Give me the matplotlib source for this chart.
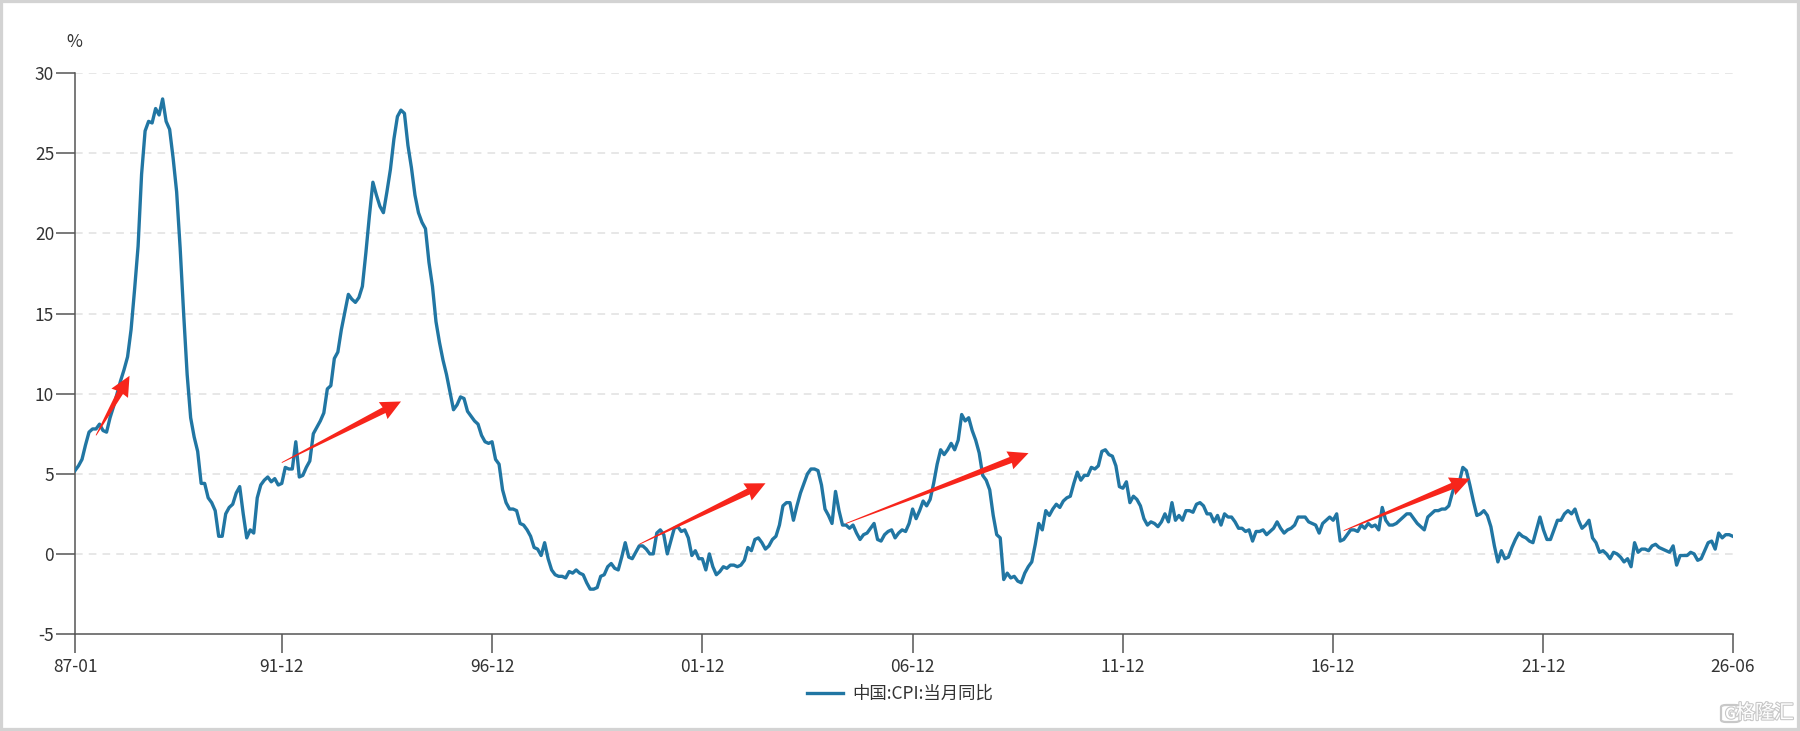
import numpy as np
import pandas as pd
import matplotlib
matplotlib.use("Agg")
import matplotlib.pyplot as plt
from matplotlib.patches import Polygon, Rectangle, FancyBboxPatch
import matplotlib.patheffects as pe

plt.rcParams['font.family'] = ['Noto Sans CJK SC', 'DejaVu Sans']
plt.rcParams['axes.unicode_minus'] = False

# 中国 CPI 当月同比 (%), 1987-01 起逐月
cpi_1987 = [5.2, 5.5, 5.9, 6.8, 7.6, 7.8, 7.8, 8.1, 7.7, 7.6, 8.5, 9.2]
cpi_1988 = [10.0, 10.8, 11.5, 12.3, 14.0, 16.5, 19.2, 23.7, 26.4, 27.0, 26.9, 27.8]
cpi_1989 = [27.4, 28.4, 27.0, 26.5, 24.7, 22.6, 19.1, 15.0, 11.2, 8.5, 7.3, 6.4]
cpi_1990 = [4.4, 4.4, 3.5, 3.2, 2.7, 1.1, 1.1, 2.5, 2.9, 3.1, 3.8, 4.2]
cpi_1991 = [2.5, 1.0, 1.5, 1.3, 3.5, 4.3, 4.6, 4.8, 4.5, 4.7, 4.3, 4.4]
cpi_1992 = [5.4, 5.3, 5.3, 7.0, 4.8, 4.9, 5.4, 5.8, 7.5, 7.9, 8.3, 8.8]
cpi_1993 = [10.3, 10.5, 12.2, 12.6, 14.0, 15.1, 16.2, 15.9, 15.7, 16.0, 16.7, 18.8]
cpi_1994 = [21.1, 23.2, 22.4, 21.7, 21.3, 22.6, 24.0, 25.9, 27.3, 27.7, 27.5, 25.5]
cpi_1995 = [24.1, 22.4, 21.3, 20.7, 20.3, 18.2, 16.7, 14.5, 13.2, 12.1, 11.2, 10.1]
cpi_1996 = [9.0, 9.3, 9.8, 9.7, 8.9, 8.6, 8.3, 8.1, 7.4, 7.0, 6.9, 7.0]
cpi_1997 = [5.9, 5.6, 4.0, 3.2, 2.8, 2.8, 2.7, 1.9, 1.8, 1.5, 1.1, 0.4]
cpi_1998 = [0.3, -0.1, 0.7, -0.3, -1.0, -1.3, -1.4, -1.4, -1.5, -1.1, -1.2, -1.0]
cpi_1999 = [-1.2, -1.3, -1.8, -2.2, -2.2, -2.1, -1.4, -1.3, -0.8, -0.6, -0.9, -1.0]
cpi_2000 = [-0.2, 0.7, -0.2, -0.3, 0.1, 0.5, 0.5, 0.3, 0.0, 0.0, 1.3, 1.5]
cpi_2001 = [1.2, 0.0, 0.8, 1.6, 1.7, 1.4, 1.5, 1.0, -0.1, 0.2, -0.3, -0.3]
cpi_2002 = [-1.0, 0.0, -0.8, -1.3, -1.1, -0.8, -0.9, -0.7, -0.7, -0.8, -0.7, -0.4]
cpi_2003 = [0.4, 0.2, 0.9, 1.0, 0.7, 0.3, 0.5, 0.9, 1.1, 1.8, 3.0, 3.2]
cpi_2004 = [3.2, 2.1, 3.0, 3.8, 4.4, 5.0, 5.3, 5.3, 5.2, 4.3, 2.8, 2.4]
cpi_2005 = [1.9, 3.9, 2.7, 1.8, 1.8, 1.6, 1.8, 1.3, 0.9, 1.2, 1.3, 1.6]
cpi_2006 = [1.9, 0.9, 0.8, 1.2, 1.4, 1.5, 1.0, 1.3, 1.5, 1.4, 1.9, 2.8]
cpi_2007 = [2.2, 2.7, 3.3, 3.0, 3.4, 4.4, 5.6, 6.5, 6.2, 6.5, 6.9, 6.5]
cpi_2008 = [7.1, 8.7, 8.3, 8.5, 7.7, 7.1, 6.3, 4.9, 4.6, 4.0, 2.4, 1.2]
cpi_2009 = [1.0, -1.6, -1.2, -1.5, -1.4, -1.7, -1.8, -1.2, -0.8, -0.5, 0.6, 1.9]
cpi_2010 = [1.5, 2.7, 2.4, 2.8, 3.1, 2.9, 3.3, 3.5, 3.6, 4.4, 5.1, 4.6]
cpi_2011 = [4.9, 4.9, 5.4, 5.3, 5.5, 6.4, 6.5, 6.2, 6.1, 5.5, 4.2, 4.1]
cpi_2012 = [4.5, 3.2, 3.6, 3.4, 3.0, 2.2, 1.8, 2.0, 1.9, 1.7, 2.0, 2.5]
cpi_2013 = [2.0, 3.2, 2.1, 2.4, 2.1, 2.7, 2.7, 2.6, 3.1, 3.2, 3.0, 2.5]
cpi_2014 = [2.5, 2.0, 2.4, 1.8, 2.5, 2.3, 2.3, 2.0, 1.6, 1.6, 1.4, 1.5]
cpi_2015 = [0.8, 1.4, 1.4, 1.5, 1.2, 1.4, 1.6, 2.0, 1.6, 1.3, 1.5, 1.6]
cpi_2016 = [1.8, 2.3, 2.3, 2.3, 2.0, 1.9, 1.8, 1.3, 1.9, 2.1, 2.3, 2.1]
cpi_2017 = [2.5, 0.8, 0.9, 1.2, 1.5, 1.5, 1.4, 1.8, 1.6, 1.9, 1.7, 1.8]
cpi_2018 = [1.5, 2.9, 2.1, 1.8, 1.8, 1.9, 2.1, 2.3, 2.5, 2.5, 2.2, 1.9]
cpi_2019 = [1.7, 1.5, 2.3, 2.5, 2.7, 2.7, 2.8, 2.8, 3.0, 3.8, 4.5, 4.5]
cpi_2020 = [5.4, 5.2, 4.3, 3.3, 2.4, 2.5, 2.7, 2.4, 1.7, 0.5, -0.5, 0.2]
cpi_2021 = [-0.3, -0.2, 0.4, 0.9, 1.3, 1.1, 1.0, 0.8, 0.7, 1.5, 2.3, 1.5]
cpi_2022 = [0.9, 0.9, 1.5, 2.1, 2.1, 2.5, 2.7, 2.5, 2.8, 2.1, 1.6, 1.8]
cpi_2023 = [2.1, 1.0, 0.7, 0.1, 0.2, 0.0, -0.3, 0.1, 0.0, -0.2, -0.5, -0.3]
cpi_2024 = [-0.8, 0.7, 0.1, 0.3, 0.3, 0.2, 0.5, 0.6, 0.4, 0.3, 0.2, 0.1]
cpi_2025 = [0.5, -0.7, -0.1, -0.1, -0.1, 0.1, 0.0, -0.4, -0.3, 0.2, 0.7, 0.8]
cpi_2026 = [0.3, 1.3, 1.0, 1.2, 1.2, 1.1]

years = [cpi_1987, cpi_1988, cpi_1989, cpi_1990, cpi_1991, cpi_1992, cpi_1993,
         cpi_1994, cpi_1995, cpi_1996, cpi_1997, cpi_1998, cpi_1999, cpi_2000,
         cpi_2001, cpi_2002, cpi_2003, cpi_2004, cpi_2005, cpi_2006, cpi_2007,
         cpi_2008, cpi_2009, cpi_2010, cpi_2011, cpi_2012, cpi_2013, cpi_2014,
         cpi_2015, cpi_2016, cpi_2017, cpi_2018, cpi_2019, cpi_2020, cpi_2021,
         cpi_2022, cpi_2023, cpi_2024, cpi_2025, cpi_2026]
cpi = [v for y in years for v in y]
dates = pd.date_range('1987-01-01', periods=len(cpi), freq='MS')
labels = dates.strftime('%y-%m')

tick_labels = ['87-01', '91-12', '96-12', '01-12', '06-12', '11-12', '16-12', '21-12', '26-06']
series_name = '中国:CPI:当月同比'

# 手动标注的红色箭头 (起点月份, 起点值, 终点月份, 终点值)
arrows = [('1987-07', 7.4, '1988-04', 10.9),
          ('1991-12', 5.7, '1994-09', 9.4),
          ('2000-06', 0.6, '2003-05', 4.3),
          ('2005-05', 1.9, '2009-08', 6.2),
          ('2017-03', 1.45, '2020-02', 4.6)]

line_color = '#2176a3'
text_color = '#333333'

fig = plt.figure(figsize=(18, 7.31), dpi=100)
ax = fig.add_axes([75 / 1800, 1 - 634 / 731, (1732.7 - 75) / 1800, (634 - 73.3) / 731])

x = np.arange(len(cpi))
ax.plot(x, cpi, color=line_color, lw=2.4, label=series_name, zorder=3,
        solid_joinstyle='round')

ax.set_xlim(0, len(cpi) - 1)
ax.set_ylim(-5, 30)
ax.set_yticks(range(-5, 31, 5))
for v in range(0, 31, 5):
    ax.axhline(v, color='#e0e0e0', lw=1.1, dashes=(5, 4), zorder=1)

pos = [list(labels).index(t) for t in tick_labels]
ax.set_xticks(pos)
ax.set_xticklabels(tick_labels)

for s in ['top', 'right']:
    ax.spines[s].set_visible(False)
for s in ['left', 'bottom']:
    ax.spines[s].set_color('#555555')
    ax.spines[s].set_linewidth(1.1)
ax.tick_params(axis='y', length=14, width=1.1, color='#555555', pad=1,
               labelsize=12.5, labelcolor=text_color)
ax.tick_params(axis='x', length=14, width=1.1, color='#555555', pad=3,
               labelsize=12.5, labelcolor=text_color)

fig.text(74 / 1800, 1 - 42 / 731, '%', ha='center', va='center', fontsize=12.5, color=text_color)

fig.legend(loc='center', bbox_to_anchor=(0.5, 1 - 694 / 731), frameon=False,
           fontsize=12.5, handlelength=2.1, handletextpad=0.55, labelcolor=text_color)

# 红色箭头, 在像素坐标里画成渐粗的形状
month_index = {l: i for i, l in enumerate(dates.strftime('%Y-%m'))}
for a in arrows:
    p0 = ax.transData.transform((month_index[a[0]], a[1]))
    p1 = ax.transData.transform((month_index[a[2]], a[3]))
    d = p1 - p0
    u = d / np.hypot(*d)
    n = np.array([-u[1], u[0]])
    tip = p1 + u * 4
    base = tip - u * 19
    verts = [p0 + n * 0.4, base + n * 3.2, base + n * 9.5 - u * 1, tip,
             base - n * 9.5 - u * 1, base - n * 3.2, p0 - n * 0.4]
    fig.patches.append(Polygon(verts, closed=True, transform=None,
                               fc='#f7251b', ec='none', zorder=5))

# 水印
wm_color = '#c8c8c8'
fig.patches.append(FancyBboxPatch((1721 / 1800, 1 - 722 / 731), 19 / 1800, 17 / 731,
                                  boxstyle='round,pad=0,rounding_size=0.003',
                                  transform=fig.transFigure, fill=False,
                                  ec=wm_color, lw=1.6))
fig.text(1730.5 / 1800, 1 - 713.5 / 731, 'G', ha='center', va='center', fontsize=10.5,
         color='white', fontweight='bold',
         path_effects=[pe.withStroke(linewidth=1.6, foreground=wm_color)])
fig.text(1794 / 1800, 1 - 713 / 731, '格隆汇', ha='right', va='center', fontsize=14,
         color='white', path_effects=[pe.withStroke(linewidth=1.6, foreground=wm_color)])

# 外框
fig.patches.append(Rectangle((0, 0), 1, 1, transform=fig.transFigure, fill=False,
                             ec='#d3d3d3', lw=4.5))

fig.savefig('out.png', dpi=100)
